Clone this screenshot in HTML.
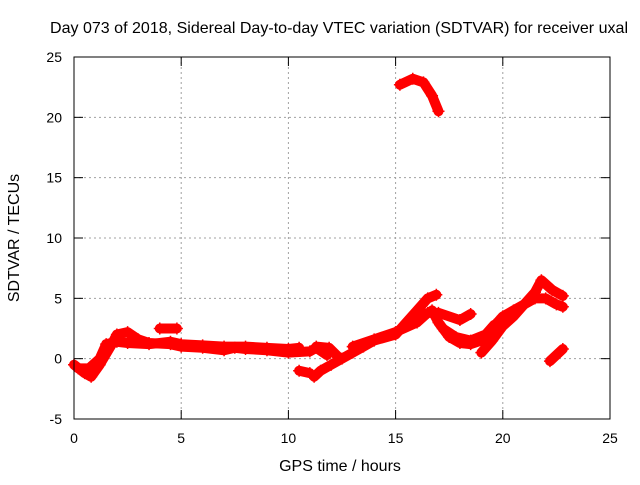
<!DOCTYPE html>
<html><head><meta charset="utf-8"><style>
body{margin:0;background:#fff;}
svg text{font-family:"Liberation Sans",sans-serif;font-size:14px;fill:#000;}
svg text.big{font-size:16px;}
</style></head><body>
<svg width="640" height="480" xmlns="http://www.w3.org/2000/svg">
<g id="grid"></g>
<g id="ticks"></g>
<g id="series"></g>
<rect x="74" y="57" width="536" height="362" fill="none" stroke="#000" stroke-width="1"/>
<text class="big" x="339" y="33" text-anchor="middle" textLength="578" lengthAdjust="spacingAndGlyphs">Day 073 of 2018, Sidereal Day-to-day VTEC variation (SDTVAR) for receiver uxal</text>
<text class="big" x="340" y="471" text-anchor="middle">GPS time / hours</text>
<text class="big" transform="translate(19,238) rotate(-90)" text-anchor="middle">SDTVAR / TECUs</text>
</svg>
<script>
const xTicks=[0,5,10,15,20,25];
const yTicks=[-5,0,5,10,15,20,25];
const trackA=[[0,-0.5],[0.5,-1.2],[0.8,-1.5],[1.2,-0.5],[1.7,1],[2,2],[2.5,2.2],[3,1.6],[3.5,1.3],[4.5,1.2],[5,1],[6,0.9],[7,0.7],[7.5,0.9],[8,0.8],[9,0.7],[10,0.5],[11,0.6],[11.3,0.9],[11.8,0.3]];
const trackB=[[0.2,-0.8],[0.7,-0.8],[1.2,0],[1.5,1.2],[2,1.4],[2.5,1.3],[3.5,1.2],[4.5,1.4],[5,1.2],[6,1.1],[7,1],[8,1],[9,0.9],[10,0.8],[10.5,0.9]];
const trackC=[[4,2.5],[4.8,2.5]];
const trackD=[[11.2,-1.5],[11.5,-1],[12,-0.5],[12.5,0],[13,0.5],[13.5,1],[14,1.5],[15,2],[15.5,3],[16,4],[16.5,5],[16.9,5.3]];
const trackE=[[13,1],[14,1.6],[15,2.2],[16,3],[16.5,3.8],[17,3.8],[18,3.2],[18.5,3.7]];
const trackF=[[16.7,4],[17,3],[17.5,1.8],[18,1.3],[18.5,1.2],[19,1.5],[19.5,2.5],[20,3.5],[20.5,4],[21,4.5],[21.5,5.5],[21.8,6.5],[22.3,5.7],[22.8,5.2]];
const trackG=[[19,0.5],[19.5,1.5],[20,2.7],[20.5,3.5],[21,4.5],[21.5,5],[22,5],[22.5,4.5],[22.8,4.3]];
const trackH=[[22.2,-0.2],[22.8,0.8]];
const trackI=[[15.2,22.7],[15.8,23.2],[16.3,22.9],[16.7,21.8],[17,20.5]];
const trackJ=[[10.5,-1],[11,-1.2]];
const trackK=[[11.3,1],[11.9,0.9],[12.3,0.2]];
const trackL=[[17.2,2.5],[17.8,1.8],[18.5,1.5],[19.2,2],[19.6,2.8]];
const tracks=[trackA,trackB,trackC,trackD,trackE,trackF,trackG,trackH,trackI,trackJ,trackK,trackL];
const NS="http://www.w3.org/2000/svg";
const X=t=>74+t*536/25, Y=v=>419-(v+5)*362/30;
const grid=document.getElementById('grid'),ticks=document.getElementById('ticks'),ser=document.getElementById('series');
function mk(tag,at,p){const e=document.createElementNS(NS,tag);for(const k in at)e.setAttribute(k,at[k]);p.appendChild(e);return e;}
xTicks.forEach(t=>{const x=X(t);
 if(t>0&&t<25){const g=mk('line',{x1:x,x2:x,y1:57,y2:419,stroke:'#a0a0a0','stroke-dasharray':'2,3'},grid);
 
 }
 mk('line',{x1:x,x2:x,y1:419,y2:410,stroke:'#000'},ticks);mk('line',{x1:x,x2:x,y1:57,y2:66,stroke:'#000'},ticks);
 const l=mk('text',{x:x,y:443,'text-anchor':'middle'},ticks);l.textContent=t;
 
 });
yTicks.forEach(v=>{const y=Y(v);
 if(v>-5&&v<25){const g=mk('line',{x1:74,x2:610,y1:y,y2:y,stroke:'#a0a0a0','stroke-dasharray':'2,3'},grid);
 
 }
 mk('line',{x1:74,x2:83,y1:y,y2:y,stroke:'#000'},ticks);mk('line',{x1:601,x2:610,y1:y,y2:y,stroke:'#000'},ticks);
 const l=mk('text',{x:62,y:y+5,'text-anchor':'end'},ticks);l.textContent=v;
 
 });
tracks.forEach(tr=>{
 const pl=mk('polyline',{points:tr.map(p=>X(p[0])+','+Y(p[1])).join(' '),fill:'none',stroke:'#ff0000','stroke-width':10,'stroke-linejoin':'round','stroke-linecap':'round'},ser);
 
 
 tr.forEach(p=>{const x=X(p[0]),y=Y(p[1]);
  const c=mk('path',{d:`M${x-6},${y}h12M${x},${y-6}v12`,stroke:'#ff0000','stroke-width':1.5},ser);
  
  });
});
</script>
</body></html>
